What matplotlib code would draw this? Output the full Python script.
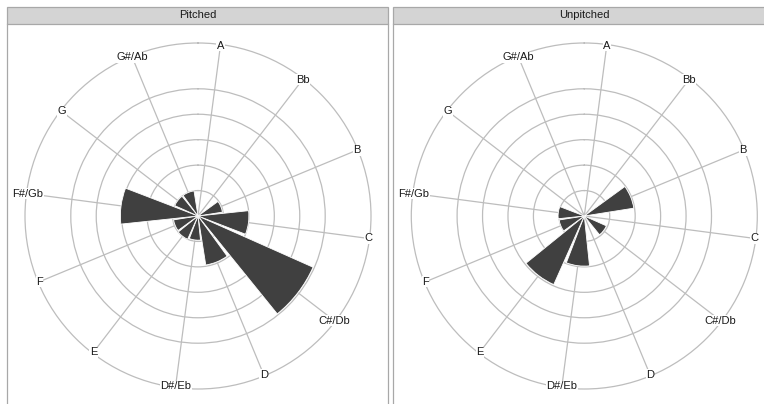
import numpy as np
import matplotlib
matplotlib.use("Agg")
import matplotlib.pyplot as plt
from matplotlib.patches import Rectangle
from matplotlib.lines import Line2D

plt.rcParams['font.family'] = ['Liberation Sans', 'DejaVu Sans']

notes = ['A', 'Bb', 'B', 'C', 'C#/Db', 'D', 'D#/Eb', 'E', 'F', 'F#/Gb', 'G', 'G#/Ab']
pitched = [0, 0, 0.97, 2.0, 4.95, 1.95, 0.95, 1.0, 0.97, 3.05, 1.0, 1.0]
unpitched = [0, 0, 1.97, 0, 0.95, 0, 1.97, 2.95, 1.0, 1.03, 0, 0]
panels = ['Pitched', 'Unpitched']

W, H = 764, 404
fig = plt.figure(figsize=(W / 100, H / 100), dpi=100)
fig.patch.set_facecolor('white')

grid_col = '#bdbdbd'
border_col = '#a8a8a8'
bar_col = '#404040'

rmax = 6.8
radius_px = 173
centers = [(198, 216), (584.3, 216)]
step = 2 * np.pi / len(notes)
theta = np.deg2rad(7.5) + step * np.arange(len(notes))


def polar_panel(cx, cy, values):
    ax = fig.add_axes([(cx - radius_px) / W, (H - cy - radius_px) / H,
                       2 * radius_px / W, 2 * radius_px / H], projection='polar')
    ax.set_theta_zero_location('N')
    ax.set_theta_direction(-1)
    ax.bar(theta, values, width=step * 0.9, color=bar_col,
           edgecolor='white', linewidth=0.6, zorder=2)
    ax.set_ylim(0, rmax)
    ax.set_yticks([1, 2, 3, 4, 5])
    ax.set_yticklabels([])
    ax.set_xticks(theta)
    ax.set_xticklabels([])
    ax.tick_params(length=0)
    ax.grid(True, color=grid_col, linewidth=0.9)
    ax.spines['polar'].set_color(grid_col)
    ax.spines['polar'].set_linewidth(0.9)
    ax.set_facecolor('none')
    for t, lab in zip(theta, notes):
        ax.text(t, rmax - 0.05, lab, ha='center', va='center', fontsize=8,
                color='#1a1a1a', zorder=5,
                bbox=dict(facecolor='white', edgecolor='none', pad=0.3))
    return ax


# facet strips and panel borders
for left in [7, 393]:
    right = left + 381
    fig.add_artist(Rectangle((left / W, (H - 24) / H), (right - left) / W, 17 / H,
                             transform=fig.transFigure, facecolor='#d4d4d4',
                             edgecolor=border_col, linewidth=0.9, zorder=0))
    for x in [left, right]:
        fig.add_artist(Line2D([x / W, x / W], [0, (H - 24) / H],
                              transform=fig.transFigure, color=border_col,
                              linewidth=0.9, zorder=0))

for (cx, cy), name, vals in zip(centers, panels, [pitched, unpitched]):
    polar_panel(cx, cy, vals)
    fig.text(cx / W, (H - 15.5) / H, name, ha='center', va='center',
             fontsize=8, color='#1a1a1a')

fig.savefig('out.png', dpi=100)
